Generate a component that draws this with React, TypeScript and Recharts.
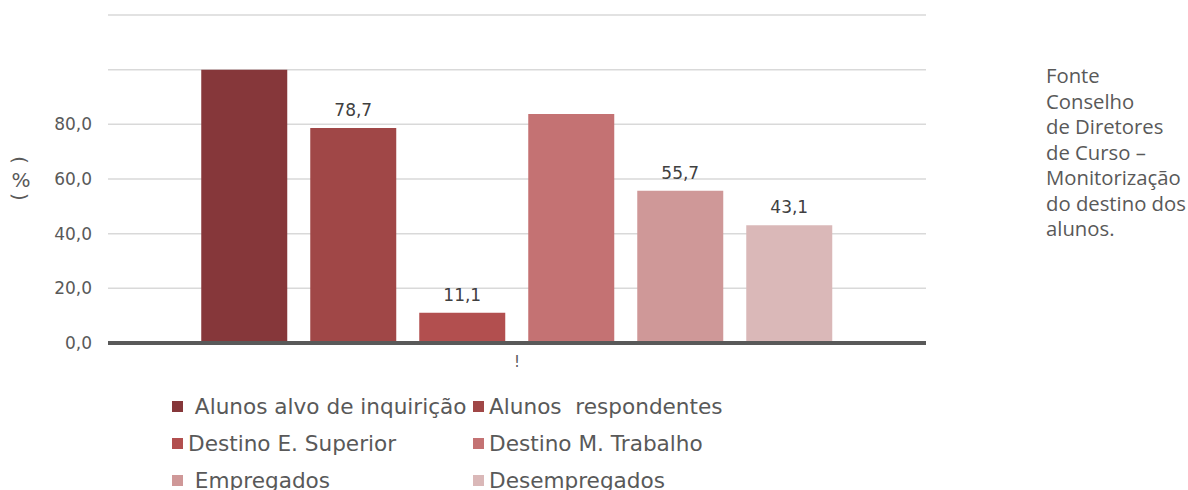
import React from 'react';
import { BarChart, Bar, XAxis, YAxis, CartesianGrid, LabelList } from 'recharts';

const categories = ['!'];
const seriesNames = [
  ' Alunos alvo de inquirição',
  'Alunos  respondentes',
  'Destino E. Superior',
  'Destino M. Trabalho',
  ' Empregados',
  'Desempregados'
];
const seriesValues = [100, 78.7, 11.1, 83.8, 55.7, 43.1];
const seriesColors = ['#86373a', '#a04747', '#b24f4f', '#c47273', '#cf9898', '#dab8b8'];
const showValueLabel = [false, true, true, false, true, true];
const yTicks = [0, 20, 40, 60, 80, 100, 120];
const sourceLines = [
  'Fonte',
  'Conselho',
  'de Diretores',
  'de Curso –',
  'Monitorização',
  'do destino dos',
  'alunos.'
];

const data = categories.map((name) => {
  const row: Record<string, string | number> = { name };
  seriesValues.forEach((v, i) => {
    row['s' + i] = v;
  });
  return row;
});

const fmt = (v: number) => v.toFixed(1).replace('.', ',');

const AxisTitle = () => (
  <g fill="#595959" fontFamily="DejaVu Sans" fontSize={20}>
    <text x={20} y={160} textAnchor="middle" dominantBaseline="central" transform="rotate(90, 20, 160)">(</text>
    <text x={21} y={180} textAnchor="middle" dominantBaseline="central">%</text>
    <text x={20} y={197} textAnchor="middle" dominantBaseline="central" transform="rotate(90, 20, 197)">)</text>
  </g>
);

const CategoryTick = (props: any) => {
  const { x, y, payload } = props;
  return (
    <text x={x} y={y + 16} textAnchor="middle" fill="#595959" fontSize={15} fontFamily="DejaVu Sans">
      {payload.value}
    </text>
  );
};

const App = () => {
  return (
    <div style={{ position: 'absolute', left: 0, top: 0, width: 1188, height: 490, background: '#fff', overflow: 'hidden' }}>
      <BarChart
        width={940}
        height={390}
        data={data}
        margin={{ top: 15, right: 14, left: 0, bottom: 17 }}
        barCategoryGap="11.4%"
        barGap={23}
      >
        <CartesianGrid vertical={false} stroke="#d9d9d9" strokeWidth={1.5} />
        <XAxis
          dataKey="name"
          height={30}
          axisLine={{ stroke: '#595959', strokeWidth: 4 }}
          tickLine={false}
          tick={<CategoryTick />}
        />
        <YAxis
          width={108}
          domain={[0, 120]}
          ticks={yTicks}
          interval={0}
          axisLine={false}
          tickLine={false}
          tickMargin={10}
          tickFormatter={(v: number) => (v <= 80 ? fmt(v) : '')}
          tick={{ fill: '#595959', fontSize: 17, fontFamily: 'DejaVu Sans' }}
          label={{ content: () => <AxisTitle /> }}
        />
        {seriesNames.map((n, i) => (
          <Bar key={n} dataKey={'s' + i} name={n} fill={seriesColors[i]} isAnimationActive={false}>
            {showValueLabel[i] && (
              <LabelList
                dataKey={'s' + i}
                position="top"
                offset={12}
                formatter={(v: number) => fmt(v)}
                style={{ fill: '#404040', fontSize: 17, fontFamily: 'DejaVu Sans' }}
              />
            )}
          </Bar>
        ))}
      </BarChart>

      <div
        style={{
          position: 'absolute',
          left: 172,
          top: 388,
          display: 'grid',
          gridTemplateColumns: '301px 320px',
          gridAutoRows: '37px',
          fontFamily: 'DejaVu Sans',
          fontSize: 21.6,
          color: '#595959'
        }}
      >
        {seriesNames.map((n, i) => (
          <div key={n} style={{ display: 'flex', alignItems: 'center', whiteSpace: 'pre' }}>
            <span style={{ width: 11, height: 11, background: seriesColors[i], marginRight: 5, flexShrink: 0 }} />
            <span>{n}</span>
          </div>
        ))}
      </div>

      <div
        style={{
          position: 'absolute',
          left: 1046,
          top: 63,
          fontFamily: 'Open Sans',
          fontSize: 20.3,
          lineHeight: '25.5px',
          color: '#595959',
          whiteSpace: 'nowrap'
        }}
      >
        {sourceLines.map((l) => (
          <div key={l}>{l}</div>
        ))}
      </div>
    </div>
  );
};

export default App;
